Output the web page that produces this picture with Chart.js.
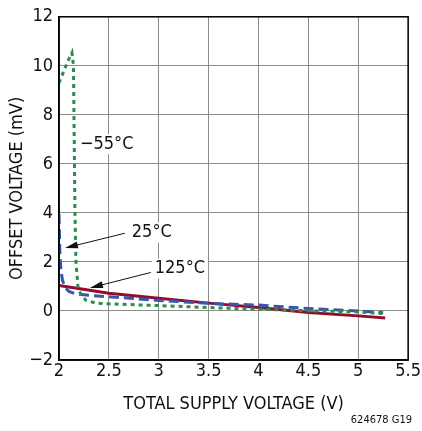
<!DOCTYPE html>
<html>
<head>
<meta charset="utf-8">
<script src="https://cdn.jsdelivr.net/npm/chart.js@4.4.0/dist/chart.umd.min.js"></script>
<style>
	html, body { margin: 0; padding: 0; background: #fff; }
	#wrap { width: 422px; height: 431px; }
</style>
</head>
<body>
<div id="wrap"><canvas id="offsetChart" width="422" height="431"></canvas></div>
<script>
(function () {
	'use strict';

	// -55°C curve
	var supplyCold = [2.0, 2.05, 2.09, 2.13, 2.145, 2.15, 2.155, 2.16, 2.17, 2.19, 2.22, 2.27, 2.36, 2.5, 3.0, 3.5, 4.0, 4.5, 5.0, 5.25];
	var offsetCold = [9.3, 9.8, 10.2, 10.53, 10.0, 8.0, 6.0, 4.0, 2.0, 1.0, 0.65, 0.44, 0.33, 0.29, 0.22, 0.14, 0.07, 0.01, -0.04, -0.1];

	// 25°C curve
	var supplyRoom = [2.0, 2.005, 2.01, 2.02, 2.035, 2.06, 2.1, 2.16, 2.3, 2.5, 3.0, 3.5, 4.0, 4.5, 5.0, 5.25];
	var offsetRoom = [3.95, 3.0, 2.2, 1.65, 1.25, 0.97, 0.8, 0.7, 0.64, 0.58, 0.43, 0.31, 0.24, 0.1, 0.0, -0.07];

	// 125°C curve
	var supplyHot = [2.0, 2.5, 3.0, 3.5, 4.0, 4.5, 5.0, 5.27];
	var offsetHot = [1.04, 0.72, 0.52, 0.32, 0.14, -0.06, -0.2, -0.29];

	var xTicks = [2, 2.5, 3, 3.5, 4, 4.5, 5, 5.5];
	var yTicks = [-2, 0, 2, 4, 6, 8, 10, 12];

	var FONT = "'Liberation Sans Narrow', 'Arial Narrow', 'DejaVu Sans Condensed', sans-serif";

	function toPoints(xs, ys) {
		return xs.map(function (x, i) {
			return { x: x, y: ys[i] };
		});
	}

	// label text, text left x, text centre y, arrow from, arrow tip (all in data units)
	var notes = [
		{ text: '\u221255\u00b0C', x: 2.21, y: 6.8 },
		{ text: '25\u00b0C', x: 2.73, y: 3.2, from: [2.66, 3.17], to: [2.06, 2.57] },
		{ text: '125\u00b0C', x: 2.96, y: 1.72, from: [2.92, 1.57], to: [2.31, 0.94] }
	];

	var notesPlugin = {
		id: 'notes',
		beforeDatasetsDraw: function (chart) {
			var ctx = chart.ctx,
				xs = chart.scales.x,
				ys = chart.scales.y;
			ctx.save();
			ctx.font = '18px ' + FONT;
			ctx.textBaseline = 'middle';
			notes.forEach(function (n) {
				var px = xs.getPixelForValue(n.x),
					py = ys.getPixelForValue(n.y),
					w = ctx.measureText(n.text).width;
				ctx.fillStyle = '#fff';
				ctx.fillRect(px - 3, py - 10, w + 6, 20);
			});
			ctx.restore();
		},
		afterDatasetsDraw: function (chart) {
			var ctx = chart.ctx,
				xs = chart.scales.x,
				ys = chart.scales.y,
				area = chart.chartArea;

			ctx.save();
			// frame
			ctx.strokeStyle = '#000';
			ctx.lineWidth = 1.5;
			ctx.strokeRect(area.left, area.top, area.right - area.left, area.bottom - area.top);

			ctx.font = '18px ' + FONT;
			ctx.textBaseline = 'middle';
			ctx.fillStyle = '#111';
			notes.forEach(function (n) {
				ctx.fillText(n.text, xs.getPixelForValue(n.x), ys.getPixelForValue(n.y));
				if (!n.from) {
					return;
				}
				var x1 = xs.getPixelForValue(n.from[0]),
					y1 = ys.getPixelForValue(n.from[1]),
					x2 = xs.getPixelForValue(n.to[0]),
					y2 = ys.getPixelForValue(n.to[1]),
					a = Math.atan2(y2 - y1, x2 - x1),
					len = 13,
					half = 3.5;
				ctx.strokeStyle = '#111';
				ctx.lineWidth = 1;
				ctx.beginPath();
				ctx.moveTo(x1, y1);
				ctx.lineTo(x2 - Math.cos(a) * len * 0.8, y2 - Math.sin(a) * len * 0.8);
				ctx.stroke();
				ctx.beginPath();
				ctx.moveTo(x2, y2);
				ctx.lineTo(x2 - Math.cos(a) * len - Math.sin(a) * half, y2 - Math.sin(a) * len + Math.cos(a) * half);
				ctx.lineTo(x2 - Math.cos(a) * len + Math.sin(a) * half, y2 - Math.sin(a) * len - Math.cos(a) * half);
				ctx.closePath();
				ctx.fill();
			});

			// figure code
			ctx.font = '11px ' + FONT;
			ctx.textAlign = 'right';
			ctx.fillText('624678 G19', 412, 420);
			ctx.restore();
		}
	};

	new Chart(document.getElementById('offsetChart'), {
		type: 'scatter',
		data: {
			datasets: [{
					label: '-55\u00b0C',
					data: toPoints(supplyCold, offsetCold),
					showLine: true,
					borderColor: '#2e8b4f',
					borderWidth: 3,
					borderDash: [4, 4],
					pointRadius: 0,
					fill: false
				},
				{
					label: '25\u00b0C',
					data: toPoints(supplyRoom, offsetRoom),
					showLine: true,
					borderColor: '#3657ad',
					borderWidth: 3,
					borderDash: [10, 5],
					pointRadius: 0,
					fill: false
				},
				{
					label: '125\u00b0C',
					data: toPoints(supplyHot, offsetHot),
					showLine: true,
					borderColor: '#920c2e',
					borderWidth: 3,
					pointRadius: 0,
					fill: false
				}
			]
		},
		options: {
			responsive: false,
			animation: false,
			devicePixelRatio: 1,
			layout: {
				padding: { top: 9, right: 13, left: 0, bottom: 0 }
			},
			plugins: {
				legend: { display: false },
				tooltip: { enabled: false }
			},
			scales: {
				x: {
					type: 'linear',
					min: 2,
					max: 5.5,
					afterBuildTicks: function (scale) {
						scale.ticks = xTicks.map(function (v) { return { value: v }; });
					},
					afterFit: function (scale) {
						scale.height = 71;
					},
					grid: { color: '#8c8c8c', lineWidth: 1, drawTicks: false },
					border: { color: '#000', width: 1.5 },
					ticks: {
						padding: 1,
						color: '#111',
						font: { family: FONT, size: 18 },
						callback: function (v) { return String(v); }
					},
					title: {
						display: true,
						text: 'TOTAL SUPPLY VOLTAGE (V)',
						color: '#111',
						font: { family: FONT, size: 18 },
						padding: { top: 0, bottom: 16 }
					}
				},
				y: {
					type: 'linear',
					min: -2,
					max: 12,
					afterBuildTicks: function (scale) {
						scale.ticks = yTicks.map(function (v) { return { value: v }; });
					},
					afterFit: function (scale) {
						scale.width = 59;
					},
					grid: { color: '#8c8c8c', lineWidth: 1, drawTicks: false },
					border: { color: '#000', width: 1.5 },
					ticks: {
						padding: 6,
						color: '#111',
						font: { family: FONT, size: 18 },
						callback: function (v) { return String(v).replace('-', '\u2212'); }
					},
					title: {
						display: true,
						text: 'OFFSET VOLTAGE (mV)',
						color: '#111',
						font: { family: FONT, size: 18 },
						padding: { top: 7, bottom: 0 }
					}
				}
			}
		},
		plugins: [notesPlugin]
	});
})();
</script>
</body>
</html>
